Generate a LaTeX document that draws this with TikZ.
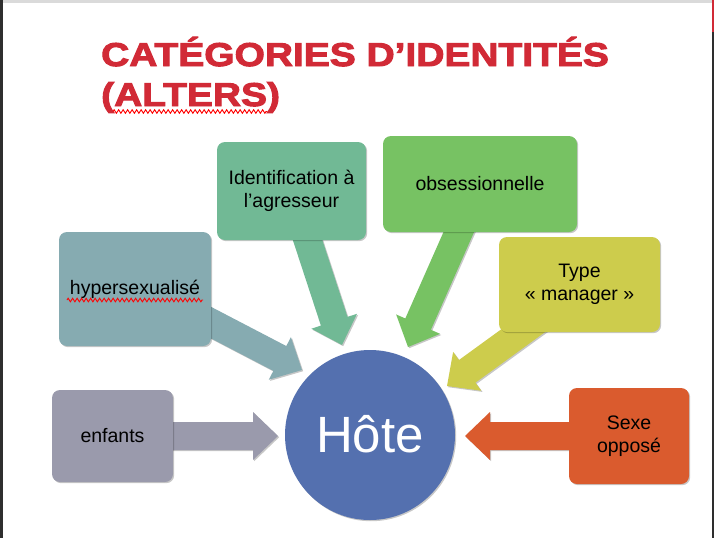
\documentclass[tikz,border=0pt]{standalone}
\usepackage{fontspec}
\setmainfont{Liberation Sans}
\newfontfamily\titlefont[FakeStretch=1.18,FakeBold=3]{Liberation Sans Bold}
\usetikzlibrary{calc,shadows,decorations.pathmorphing}
\pgfdeclarelayer{bg}
\pgfsetlayers{bg,main}
\definecolor{titlered}{HTML}{D12A36}
\definecolor{cenf}{HTML}{9A9AAC}
\definecolor{chyp}{HTML}{86ABB1}
\definecolor{cide}{HTML}{71B995}
\definecolor{cobs}{HTML}{77C263}
\definecolor{ctyp}{HTML}{CDCC4C}
\definecolor{csex}{HTML}{DA5B2E}
\definecolor{chote}{HTML}{5470AF}
\definecolor{frameside}{HTML}{2E2E2E}
\definecolor{frametop}{HTML}{DADADA}
\tikzset{
  softshadow/.style={drop shadow={shadow xshift=1.2pt,shadow yshift=-1.2pt,opacity=0.22,fill=black}},
  catbox/.style={rounded corners=8pt, inner sep=0pt, align=center, text=black,
    font=\fontsize{19.5}{22.5}\selectfont, softshadow},
  titletext/.style={anchor=base west, inner sep=0pt, text=titlered,
    font=\titlefont\fontsize{33}{40}\selectfont},
  squig/.style={draw=red, line width=0.9pt, decorate,
    decoration={zigzag, segment length=4.5pt, amplitude=1.8pt}},
}
\newcommand\fatarrow[3]{%
  \path ($(#3)!25pt!(#2)$) coordinate (fa-b);
  \fill[#1, softshadow] ($(#2)!14pt!90:(#3)$) -- ($(fa-b)!14pt!90:(#3)$)
    -- ($(fa-b)!24pt!90:(#3)$) -- (#3) -- ($(fa-b)!24pt!-90:(#3)$)
    -- ($(fa-b)!14pt!-90:(#3)$) -- ($(#2)!14pt!-90:(#3)$) -- cycle;}
\begin{document}
\begin{tikzpicture}[x=1pt,y=-1pt]
\useasboundingbox (0,0) rectangle (714,538);
% title
\node[titletext] (t1) at (101,66) {CATÉGORIES D’IDENTITÉS};
\node[titletext] (t2) at (101,106) {(ALTERS)};
\draw[squig] (113,111.5) -- (267,111.5);
% centre
\node[circle, fill=chote, minimum size=170pt, inner sep=0pt, text=white,
  font=\fontsize{51}{51}\selectfont, softshadow] (hote) at (370,435) {\raisebox{2pt}{Hôte}};
% boxes
\node[catbox, fill=cenf, minimum width=121pt, minimum height=92pt] (enf) at (112.5,436) {enfants};
\node[catbox, fill=chyp, minimum width=152pt, minimum height=114pt] (hyp) at (135,289) {hypersexualisé};
\draw[squig] (67,300) -- (203,300);
\node[catbox, fill=cide, minimum width=149pt, minimum height=98pt] (ide) at (291.5,191) {Identification à\\l’agresseur};
\node[catbox, fill=cobs, minimum width=194pt, minimum height=96pt] (obs) at (480,184) {obsessionnelle};
\node[catbox, fill=ctyp, minimum width=161pt, minimum height=95pt] (typ) at (579.5,284.5) {Type\\«~manager~»};
\node[catbox, fill=csex, minimum width=120pt, minimum height=96pt] (sex) at (629,436) {Sexe\\opposé};
% arrow start and tip points
\coordinate (hyp-s) at ($(hyp.center)+(0,-6)$);
\coordinate (typ-s) at ($(typ.center)+(10,-2)$);
\coordinate (enf-t) at (278,436);
\coordinate (hyp-t) at (302,370);
\coordinate (ide-t) at (342,345);
\coordinate (obs-t) at (408,347);
\coordinate (typ-t) at (447,386);
\coordinate (sex-t) at (465,436);
\begin{pgfonlayer}{bg}
  \fill[white] (0,0) rectangle (714,538);
  \fill[frametop] (0,0) rectangle (714,3);
  \fill[frameside] (0,0) rectangle (3,538);
  \fill[frameside] (711.5,0) rectangle (714,538);
  \fill[titlered] (711.5,0) rectangle (714,32);
  \fatarrow{cenf}{enf.center}{enf-t}
  \fatarrow{chyp}{hyp-s}{hyp-t}
  \fatarrow{cide}{ide.center}{ide-t}
  \fatarrow{cobs}{obs.center}{obs-t}
  \fatarrow{ctyp}{typ-s}{typ-t}
  \fatarrow{csex}{sex.center}{sex-t}
\end{pgfonlayer}
\end{tikzpicture}
\end{document}
